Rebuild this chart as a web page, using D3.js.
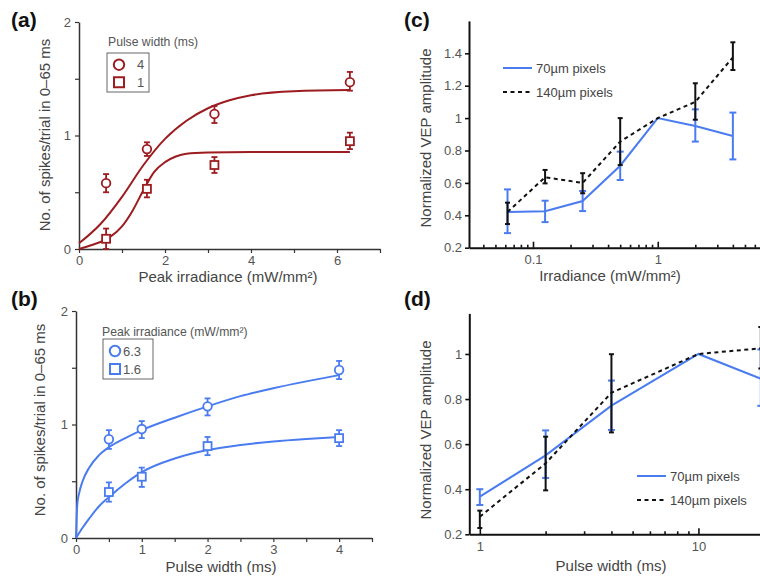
<!DOCTYPE html>
<html><head><meta charset="utf-8">
<script src="https://cdn.jsdelivr.net/npm/d3@7"></script>
<style>
body{margin:0;background:#fff;}
svg{display:block;font-family:"Liberation Sans",Arial,Helvetica,sans-serif;}
</style></head><body>
<script>
// ---------- DATA ----------
// Panel (a): spikes vs peak irradiance, two pulse widths
const aIrr = [0.63, 1.58, 3.15, 6.3];
const aW4 = [0.58, 0.88, 1.19, 1.47];
const aW4Lo = [0.50, 0.82, 1.11, 1.395];
const aW4Hi = [0.66, 0.94, 1.26, 1.56];
const aW1 = [0.09, 0.53, 0.74, 0.95];
const aW1Lo = [0.0, 0.455, 0.67, 0.88];
const aW1Hi = [0.18, 0.61, 0.81, 1.025];
const aFitW4 = [[0,0.05],[0.5,0.22],[1,0.46],[1.5,0.74],[2,0.97],[2.5,1.13],[3,1.24],[3.5,1.31],[4,1.355],[5,1.39],[6.3,1.40]];
const aFitW1 = [[0,0],[0.3,0.035],[0.7,0.10],[1,0.20],[1.25,0.34],[1.5,0.52],[1.75,0.68],[2,0.765],[2.25,0.815],[2.5,0.84],[3,0.85],[4,0.855],[6.3,0.855]];
const aLegend = ["4", "1"];

// Panel (b): spikes vs pulse width, two irradiances
const bPw = [0.5, 1, 2, 4];
const bI63 = [0.87, 0.96, 1.16, 1.48];
const bI63Lo = [0.785, 0.88, 1.08, 1.40];
const bI63Hi = [0.95, 1.03, 1.23, 1.56];
const bI16 = [0.405, 0.54, 0.81, 0.88];
const bI16Lo = [0.32, 0.45, 0.73, 0.81];
const bI16Hi = [0.49, 0.62, 0.89, 0.95];
const bFitI63 = [[0,0],[0.02,0.30],[0.05,0.40],[0.1,0.50],[0.2,0.62],[0.35,0.73],[0.5,0.80],[0.75,0.88],[1,0.95],[1.5,1.06],[2,1.16],[2.5,1.25],[3,1.32],[3.5,1.38],[4,1.435]];
const bFitI16 = [[0,0],[0.1,0.09],[0.2,0.17],[0.35,0.28],[0.5,0.36],[0.75,0.48],[1,0.58],[1.5,0.70],[2,0.775],[2.5,0.82],[3,0.85],[3.5,0.872],[4,0.89]];
const bLegend = ["6.3", "1.6"];

// Panel (c): normalized VEP vs irradiance
const cIrr = [0.0625, 0.125, 0.25, 0.5, 1, 2, 4];
const c70 = [0.42, 0.425, 0.488, 0.706, 1.0, 0.951, 0.89];
const c70Lo = [0.29, 0.358, 0.426, 0.618, null, 0.855, 0.745];
const c70Hi = [0.56, 0.49, 0.55, 0.793, null, 1.054, 1.034];
const c140 = [0.42, 0.635, 0.60, 0.855, 1.0, 1.10, 1.375];
const c140Lo = [0.346, 0.597, 0.536, 0.71, null, 0.99, 1.297];
const c140Hi = [0.478, 0.68, 0.66, 1.0, null, 1.215, 1.468];

// Panel (d): normalized VEP vs pulse width
const dPw = [1, 2, 4, 10, 19.3];
const d70 = [0.367, 0.55, 0.771, 1.0, 0.89];
const d70Lo = [0.33, 0.45, 0.663, null, 0.77];
const d70Hi = [0.40, 0.661, 0.882, null, 1.02];
const d140 = [0.278, 0.515, 0.828, 1.0, 1.025];
const d140Lo = [0.228, 0.395, 0.652, null, 0.936];
const d140Hi = [0.305, 0.633, 0.999, null, 1.12];
const vepLegend = ["70µm pixels", "140µm pixels"];

// ---------- STYLE ----------
const RED = "#9c1c20", BLUE = "#4a7cf0", BLK = "#111";
const W = 760, H = 581;
const svg = d3.select("body").append("svg").attr("width", W).attr("height", H);

function styleAxis(g, color, width, tickColor) {
  g.select(".domain").attr("stroke", color).attr("stroke-width", width);
  g.selectAll(".tick line").attr("stroke", color).attr("stroke-width", width * 0.8);
  g.selectAll(".tick text").attr("fill", tickColor).style("font-size", "13px").style("font-family", "Liberation Sans, Arial, sans-serif");
}
function panelLabel(t, x, y) {
  svg.append("text").attr("x", x).attr("y", y).text(t)
    .style("font-size", "21px").style("font-weight", "bold").attr("fill", "#111");
}
function axisLabelX(t, x, y) {
  svg.append("text").attr("x", x).attr("y", y).attr("text-anchor", "middle").text(t)
    .style("font-size", "15px").attr("fill", "#444");
}
function axisLabelY(t, x, y) {
  svg.append("text").attr("transform", `translate(${x},${y}) rotate(-90)`).attr("text-anchor", "middle").text(t)
    .style("font-size", "15px").attr("fill", "#444");
}
function errBars(g, xs, lo, hi, x, y, color, cap, sw) {
  xs.forEach((xv, i) => {
    if (lo[i] == null) return;
    const px = x(xv);
    g.append("line").attr("x1", px).attr("x2", px).attr("y1", y(lo[i])).attr("y2", y(hi[i])).attr("stroke", color).attr("stroke-width", sw);
    [lo[i], hi[i]].forEach(v => g.append("line").attr("x1", px - cap / 2).attr("x2", px + cap / 2).attr("y1", y(v)).attr("y2", y(v)).attr("stroke", color).attr("stroke-width", sw));
  });
}
function markers(g, xs, ys, x, y, color, shape) {
  xs.forEach((xv, i) => {
    if (shape === "circle") {
      g.append("circle").attr("cx", x(xv)).attr("cy", y(ys[i])).attr("r", 4.3).attr("fill", "#fff").attr("stroke", color).attr("stroke-width", 1.8);
    } else {
      const s = 8;
      g.append("rect").attr("x", x(xv) - s / 2).attr("y", y(ys[i]) - s / 2).attr("width", s).attr("height", s).attr("fill", "#fff").attr("stroke", color).attr("stroke-width", 1.8);
    }
  });
}
function spikeLegend(title, labels, color, tx, ty, bx, by, bw, bh, txtX) {
  svg.append("text").attr("x", tx).attr("y", ty).text(title).style("font-size", "12.2px").attr("fill", "#555");
  svg.append("rect").attr("x", bx).attr("y", by).attr("width", bw).attr("height", bh).attr("fill", "none").attr("stroke", "#666").attr("stroke-width", 1);
  const cy1 = by + bh * 0.3, cy2 = by + bh * 0.75;
  svg.append("circle").attr("cx", bx + 12).attr("cy", cy1).attr("r", 5.2).attr("fill", "none").attr("stroke", color).attr("stroke-width", 2);
  svg.append("rect").attr("x", bx + 7).attr("y", cy2 - 5).attr("width", 10).attr("height", 10).attr("fill", "none").attr("stroke", color).attr("stroke-width", 2);
  svg.append("text").attr("x", txtX).attr("y", cy1 + 4.5).text(labels[0]).style("font-size", "13px").attr("fill", "#555");
  svg.append("text").attr("x", txtX).attr("y", cy2 + 4.5).text(labels[1]).style("font-size", "13px").attr("fill", "#555");
}
const pairs = (xs, ys) => xs.map((x, i) => [x, ys[i]]);

// ---------- PANEL A ----------
(function () {
  const x = d3.scaleLinear().domain([0, 7]).range([79, 380]);
  const y = d3.scaleLinear().domain([0, 2]).range([249, 22]);
  const g = svg.append("g");
  const ax = g.append("g").attr("transform", `translate(0,${y(0)})`)
    .call(d3.axisBottom(x).tickValues(d3.range(0, 8)).tickFormat(d => d % 2 === 0 && d < 7 ? d : "").tickSizeInner(4).tickSizeOuter(0).tickPadding(3));
  styleAxis(ax, "#333", 1.5, "#555");
  const ay = g.append("g").attr("transform", `translate(${x(0)},0)`)
    .call(d3.axisLeft(y).tickValues([0, 0.5, 1, 1.5, 2]).tickFormat(d => Number.isInteger(d) ? d : "").tickSizeInner(4).tickSizeOuter(0).tickPadding(4));
  styleAxis(ay, "#333", 1.5, "#555");
  const line = d3.line().x(d => x(d[0])).y(d => y(d[1])).curve(d3.curveMonotoneX);
  g.append("path").attr("d", line(aFitW4)).attr("fill", "none").attr("stroke", RED).attr("stroke-width", 2);
  g.append("path").attr("d", line(aFitW1)).attr("fill", "none").attr("stroke", RED).attr("stroke-width", 2);
  errBars(g, aIrr, aW4Lo, aW4Hi, x, y, RED, 6, 1.8);
  errBars(g, aIrr, aW1Lo, aW1Hi, x, y, RED, 6, 1.8);
  markers(g, aIrr, aW4, x, y, RED, "circle");
  markers(g, aIrr, aW1, x, y, RED, "square");
  spikeLegend("Pulse width (ms)", aLegend, RED, 108, 46, 107, 53, 42, 39, 137);
  axisLabelY("No. of spikes/trial in 0–65 ms", 50, 135);
  axisLabelX("Peak irradiance (mW/mm²)", 228, 282);
  panelLabel("(a)", 11, 27);
})();

// ---------- PANEL B ----------
(function () {
  const x = d3.scaleLinear().domain([0, 4.5]).range([76, 372]);
  const y = d3.scaleLinear().domain([0, 2]).range([538, 311]);
  const g = svg.append("g");
  const ax = g.append("g").attr("transform", `translate(0,${y(0)})`)
    .call(d3.axisBottom(x).tickValues(d3.range(0, 4.51, 0.5)).tickFormat(d => Number.isInteger(d) ? d : "").tickSizeInner(4).tickSizeOuter(0).tickPadding(3));
  styleAxis(ax, "#333", 1.5, "#555");
  const ay = g.append("g").attr("transform", `translate(${x(0)},0)`)
    .call(d3.axisLeft(y).tickValues([0, 0.5, 1, 1.5, 2]).tickFormat(d => Number.isInteger(d) ? d : "").tickSizeInner(4).tickSizeOuter(0).tickPadding(4));
  styleAxis(ay, "#333", 1.5, "#555");
  const line = d3.line().x(d => x(d[0])).y(d => y(d[1])).curve(d3.curveMonotoneX);
  g.append("path").attr("d", line(bFitI63)).attr("fill", "none").attr("stroke", BLUE).attr("stroke-width", 2);
  g.append("path").attr("d", line(bFitI16)).attr("fill", "none").attr("stroke", BLUE).attr("stroke-width", 2);
  errBars(g, bPw, bI63Lo, bI63Hi, x, y, BLUE, 6, 1.8);
  errBars(g, bPw, bI16Lo, bI16Hi, x, y, BLUE, 6, 1.8);
  markers(g, bPw, bI63, x, y, BLUE, "circle");
  markers(g, bPw, bI16, x, y, BLUE, "square");
  spikeLegend("Peak irradiance (mW/mm²)", bLegend, BLUE, 102, 336, 103, 339, 50, 40, 123);
  axisLabelY("No. of spikes/trial in 0–65 ms", 45, 420);
  axisLabelX("Pulse width (ms)", 221, 572);
  panelLabel("(b)", 11, 306);
})();

// ---------- VEP panels ----------
function vepPanel(opt) {
  const { x, y, xs, s70, s70Lo, s70Hi, s140, s140Lo, s140Hi, xMajor, xMinor, yTicks, leg } = opt;
  const g = svg.append("g");
  const fmtY = d => String(+d.toFixed(1));
  const ax = g.append("g").attr("transform", `translate(0,${y.range()[0]})`)
    .call(d3.axisBottom(x).tickValues(xMajor).tickFormat(d => d).tickSizeInner(-6).tickSizeOuter(0).tickPadding(7));
  styleAxis(ax, BLK, 2, "#555");
  const axm = g.append("g").attr("transform", `translate(0,${y.range()[0]})`)
    .call(d3.axisBottom(x).tickValues(xMinor).tickFormat("").tickSizeInner(-3).tickSizeOuter(0));
  axm.select(".domain").remove();
  axm.selectAll(".tick line").attr("stroke", BLK).attr("stroke-width", 1.6);
  const ay = g.append("g").attr("transform", `translate(${x.range()[0]},0)`)
    .call(d3.axisLeft(y).tickValues(yTicks).tickFormat(fmtY).tickSizeInner(4).tickSizeOuter(0).tickPadding(3));
  styleAxis(ay, BLK, 2, "#555");
  const l = d3.line().x(d => x(d[0])).y(d => y(d[1]));
  g.append("path").attr("d", l(pairs(xs, s70))).attr("fill", "none").attr("stroke", BLUE).attr("stroke-width", 2);
  errBars(g, xs, s70Lo, s70Hi, x, y, BLUE, 7, 2);
  g.append("path").attr("d", l(pairs(xs, s140))).attr("fill", "none").attr("stroke", BLK).attr("stroke-width", 2).attr("stroke-dasharray", "4,3.5");
  errBars(g, xs, s140Lo, s140Hi, x, y, BLK, 5, 2);
  // legend
  g.append("line").attr("x1", leg.x).attr("x2", leg.x + 29).attr("y1", leg.y).attr("y2", leg.y).attr("stroke", BLUE).attr("stroke-width", 2);
  g.append("line").attr("x1", leg.x).attr("x2", leg.x + 29).attr("y1", leg.y + 24).attr("y2", leg.y + 24).attr("stroke", BLK).attr("stroke-width", 2).attr("stroke-dasharray", "4,3.5");
  g.append("text").attr("x", leg.x + 33).attr("y", leg.y + 5).text(vepLegend[0]).style("font-size", "13px").attr("fill", "#444");
  g.append("text").attr("x", leg.x + 33).attr("y", leg.y + 29).text(vepLegend[1]).style("font-size", "13px").attr("fill", "#444");
}

// Panel C
vepPanel({
  x: d3.scaleLog().domain([0.0307, 6.6]).range([469, 760]),
  y: d3.scaleLinear().domain([0.2, 1.6]).range([247.7, 20.9]),
  xs: cIrr, s70: c70, s70Lo: c70Lo, s70Hi: c70Hi, s140: c140, s140Lo: c140Lo, s140Hi: c140Hi,
  xMajor: [0.1, 1],
  xMinor: [0.04, 0.05, 0.06, 0.07, 0.08, 0.09, 0.2, 0.3, 0.4, 0.5, 0.6, 0.7, 0.8, 0.9, 2, 3, 4, 5, 6],
  yTicks: [0.2, 0.4, 0.6, 0.8, 1, 1.2, 1.4],
  leg: { x: 503, y: 68 }
});
axisLabelY("Normalized VEP amplitude", 431, 138);
axisLabelX("Irradiance (mW/mm²)", 610, 281);
panelLabel("(c)", 404, 27);

// Panel D
vepPanel({
  x: d3.scaleLog().domain([0.895, 25]).range([469.3, 785.4]),
  y: d3.scaleLinear().domain([0.2, 1.18]).range([534.3, 313.4]),
  xs: dPw, s70: d70, s70Lo: d70Lo, s70Hi: d70Hi, s140: d140, s140Lo: d140Lo, s140Hi: d140Hi,
  xMajor: [1, 10],
  xMinor: [2, 3, 4, 5, 6, 7, 8, 9, 20],
  yTicks: [0.2, 0.4, 0.6, 0.8, 1],
  leg: { x: 637, y: 476 }
});
axisLabelY("Normalized VEP amplitude", 431, 430);
axisLabelX("Pulse width (ms)", 611, 571);
panelLabel("(d)", 404, 306);
</script>
</body></html>
